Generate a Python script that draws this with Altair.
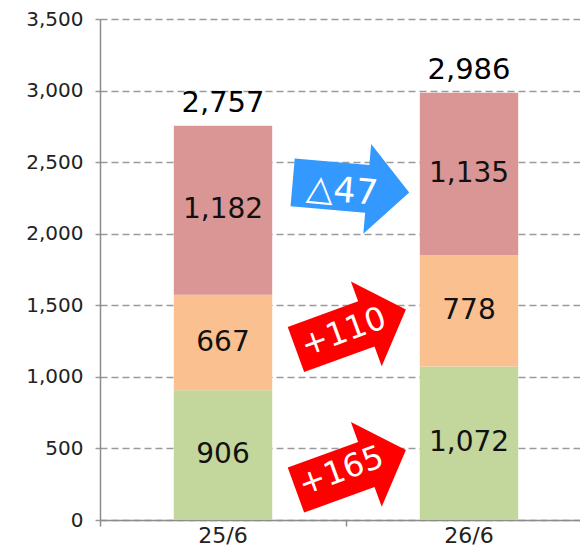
import altair as alt
import pandas as pd

# ---- data ----
categories = ["25/6", "26/6"]
seg_names = ["green", "orange", "pink"]          # bottom -> top
seg_colors = ["#C3D69B", "#FAC090", "#D99694"]
green_vals = [906, 1072]
orange_vals = [667, 778]
pink_vals = [1182, 1135]
total_labels = ["2,757", "2,986"]

arrow_texts = ["△47", "+110", "+165"]
arrow_colors = ["#3399FF", "#FF0000", "#FF0000"]
arrow_x = [1.02, 1.02, 1.02]
arrow_y = [2323, 1331, 349]
arrow_angles = [5, 340, 340]
text_x = [0.985, 0.99, 0.98]
text_y = [2300, 1313, 342]
text_sizes = [35, 32, 32]

# ---- tables ----
rows = []
for i, cat in enumerate(categories):
    base = 0
    for j, vals in enumerate([green_vals, orange_vals, pink_vals]):
        v = vals[i]
        rows.append({"cat": cat, "seg": seg_names[j], "value": v, "ord": j,
                     "mid": base + v / 2, "label": f"{v:,}"})
        base += v
df = pd.DataFrame(rows)

tot = pd.DataFrame({
    "cat": categories,
    "total": [g + o + p for g, o, p in zip(green_vals, orange_vals, pink_vals)],
    "label": total_labels,
})

arr = pd.DataFrame({
    "txt": arrow_texts, "col": arrow_colors, "ax": arrow_x, "ay": arrow_y,
    "ang": arrow_angles, "tx": text_x, "ty": text_y, "fs": text_sizes,
})

FONT = "DejaVu Sans"
ARROW = "M -1 -0.41 L 0.28 -0.41 L 0.28 -0.77 L 1 0 L 0.28 0.77 L 0.28 0.41 L -1 0.41 Z"
AXIS_GREY = "#8c8c8c"
X_RANGE = [0, 492]   # plot continues past the right edge of the picture

y_scale = alt.Scale(domain=[0, 3500], nice=False)
y_axis = alt.Axis(values=[0, 500, 1000, 1500, 2000, 2500, 3000, 3500],
                  labelExpr="format(datum.value, ',')",
                  title=None, labelFont=FONT, labelFontSize=20, labelColor="#222222",
                  grid=True, gridDash=[7, 4], gridColor="#9a9a9a", gridWidth=1.5,
                  tickColor="#9a9a9a", tickSize=5, tickWidth=1.5,
                  domainColor=AXIS_GREY, domainWidth=1.5, labelPadding=12)
# category labels only
x_axis = alt.Axis(title=None, orient="bottom", labelAngle=0, labelFont=FONT, labelFontSize=22,
                  labelColor="#222222", ticks=False, tickSize=0, domain=False,
                  labelPadding=5, grid=False)
# domain line + ticks at category boundaries
x_pos_axis = alt.Axis(title=None, orient="bottom", values=[0, 1, 2], labels=False, grid=False,
                      tickColor=AXIS_GREY, tickSize=6, tickWidth=1.5,
                      domainColor=AXIS_GREY, domainWidth=1.5)
x_band = alt.Scale(paddingInner=0.6, paddingOuter=0.3, range=X_RANGE)
x_pos = alt.Scale(domain=[0, 2], nice=False, range=X_RANGE)

bars = alt.Chart(df).mark_bar().encode(
    x=alt.X("cat:N", scale=x_band, axis=x_axis, sort=categories),
    y=alt.Y("value:Q", stack="zero", scale=y_scale, axis=y_axis),
    color=alt.Color("seg:N", scale=alt.Scale(domain=seg_names, range=seg_colors), legend=None),
    order=alt.Order("ord:Q"),
)

seg_text = alt.Chart(df).mark_text(font=FONT, fontSize=28, color="#111111", baseline="middle").encode(
    x=alt.X("cat:N", scale=x_band, axis=x_axis, sort=categories),
    y=alt.Y("mid:Q", scale=y_scale, axis=y_axis),
    text="label:N",
)

tot_text = alt.Chart(tot).mark_text(font=FONT, fontSize=29, color="#000000",
                                    baseline="middle", dy=-23).encode(
    x=alt.X("cat:N", scale=x_band, axis=x_axis, sort=categories),
    y=alt.Y("total:Q", scale=y_scale, axis=y_axis),
    text="label:N",
)

base_layer = alt.layer(bars, seg_text, tot_text)

arrows = alt.Chart(arr).mark_point(shape=ARROW, size=13689, filled=True, opacity=1,
                                   strokeWidth=0).encode(
    x=alt.X("ax:Q", scale=x_pos, axis=x_pos_axis),
    y=alt.Y("ay:Q", scale=y_scale, axis=y_axis),
    color=alt.Color("col:N", scale=None),
    angle=alt.Angle("ang:Q", scale=None),
)

arrow_text = alt.Chart(arr).mark_text(font=FONT, color="white", baseline="middle").encode(
    x=alt.X("tx:Q", scale=x_pos, axis=x_pos_axis),
    y=alt.Y("ty:Q", scale=y_scale, axis=y_axis),
    text="txt:N",
    size=alt.Size("fs:Q", scale=None),
    angle=alt.Angle("ang:Q", scale=None),
)

arrow_layer = alt.layer(arrows, arrow_text)

chart = alt.layer(base_layer, arrow_layer).resolve_scale(x="independent").properties(
    width=480, height=501,
    padding={"left": 92, "top": 11, "right": 0, "bottom": 31},
    autosize=alt.AutoSizeParams(type="none"),
).configure_view(stroke=None)

chart.save("out.html", embed_options={"renderer": "svg", "actions": False})
